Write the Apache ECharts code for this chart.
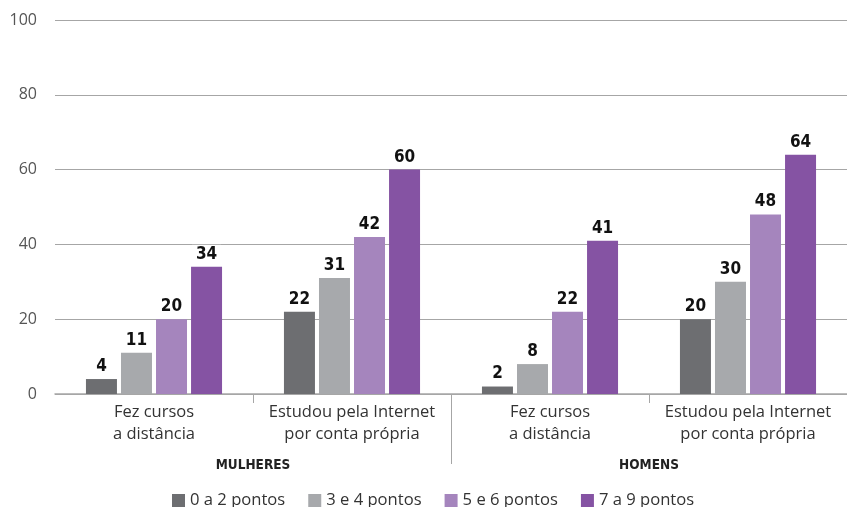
<!DOCTYPE html>
<html>
<head>
<meta charset="utf-8">
<script src="https://cdn.jsdelivr.net/npm/echarts@6/dist/echarts.min.js"></script>
<style>
  html, body { margin: 0; padding: 0; background: #fff; }
  #chart { width: 847px; height: 507px; }
</style>
</head>
<body>
<div id="chart"></div>
<script>
// dados
const categories = [
  "Fez cursos\na distância",
  "Estudou pela Internet\npor conta própria",
  "Fez cursos\na distância",
  "Estudou pela Internet\npor conta própria"
];
const groups = ["MULHERES", "HOMENS"];
const seriesNames = ["0 a 2 pontos", "3 e 4 pontos", "5 e 6 pontos", "7 a 9 pontos"];
const pts0a2 = [4, 22, 2, 20];
const pts3e4 = [11, 31, 8, 30];
const pts5e6 = [20, 42, 22, 48];
const pts7a9 = [34, 60, 41, 64];
const colors = ["#6d6e71", "#a7a9ac", "#a585bd", "#8553a3"];

const chart = echarts.init(document.getElementById("chart"));

const values = [pts0a2, pts3e4, pts5e6, pts7a9];
const series = seriesNames.map((name, i) => ({
  name: name,
  type: "bar",
  xAxisIndex: 0,
  data: values[i],
  barWidth: 31,
  barGap: "13%",
  itemStyle: { color: colors[i] },
  label: {
    show: true,
    position: "top",
    distance: 4,
    color: "#111",
    fontFamily: "Liberation Sans Narrow, DejaVu Sans Condensed, sans-serif",
    fontWeight: "bold",
    fontSize: 17,
    backgroundColor: "#fff",
    padding: [1, 4, 0, 4]
  }
}));

chart.setOption({
  animation: false,
  textStyle: { fontFamily: "Open Sans, sans-serif" },
  grid: { left: 55, right: -8, top: 20, bottom: 113 },
  legend: {
    data: seriesNames,
    left: 167,
    top: 487,
    icon: "rect",
    itemWidth: 13,
    itemHeight: 13,
    itemGap: 23,
    textStyle: { fontSize: 16.6, color: "#333", fontFamily: "Open Sans, sans-serif" }
  },
  xAxis: [
    {
      type: "category",
      data: categories,
      axisLine: { lineStyle: { color: "#a6a6a6", width: 1.5 } },
      axisTick: {
        show: true,
        length: 9,
        interval: function (index) { return index % 2 === 1; },
        lineStyle: { color: "#a6a6a6" }
      },
      axisLabel: {
        interval: 0,
        margin: 7,
        fontSize: 16.5,
        lineHeight: 22,
        color: "#333",
        fontFamily: "Open Sans, sans-serif"
      }
    },
    {
      type: "category",
      position: "bottom",
      data: groups,
      axisLine: { show: false },
      axisTick: { show: false },
      axisLabel: {
        interval: 0,
        margin: 64,
        fontSize: 13.5,
        fontWeight: "bold",
        color: "#222",
        fontFamily: "Liberation Sans Narrow, DejaVu Sans Condensed, sans-serif"
      }
    }
  ],
  yAxis: {
    type: "value",
    min: 0,
    max: 100,
    interval: 20,
    axisLine: { show: false },
    axisTick: { show: false },
    axisLabel: { fontSize: 16, color: "#555", margin: 18, fontFamily: "Open Sans, sans-serif" },
    splitLine: { lineStyle: { color: "#a6a6a6", width: 1.2 } }
  },
  series: series
});

// linha separadora entre MULHERES e HOMENS
const c0 = chart.convertToPixel({ xAxisIndex: 1 }, groups[0]);
const c1 = chart.convertToPixel({ xAxisIndex: 1 }, groups[1]);
const y0 = chart.convertToPixel({ yAxisIndex: 0 }, 0);
const sepX = Math.round((c0 + c1) / 2) + 0.5;
chart.setOption({
  graphic: [{
    type: "line",
    shape: { x1: sepX, y1: y0, x2: sepX, y2: y0 + 70 },
    style: { stroke: "#a6a6a6", lineWidth: 1 },
    z: 10
  }]
});
</script>
</body>
</html>
